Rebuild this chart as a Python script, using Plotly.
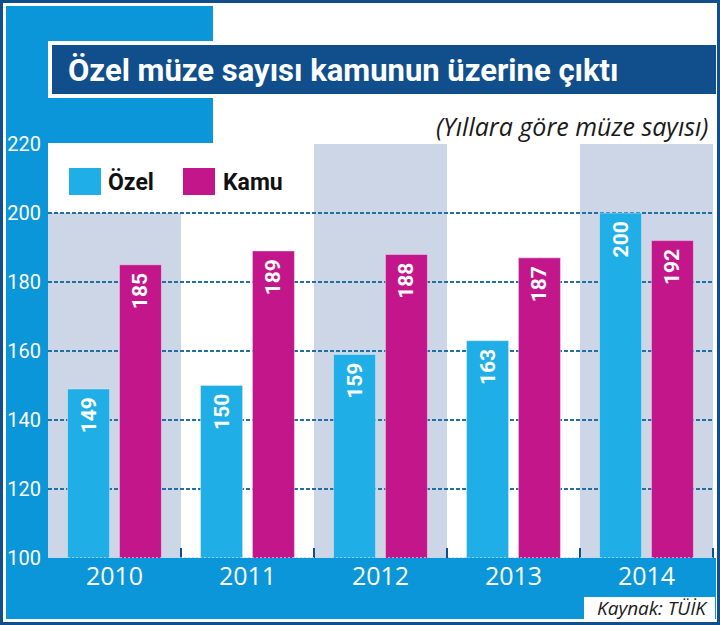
import plotly.graph_objects as go

# values (Yıllara göre müze sayısı)
years = [2010, 2011, 2012, 2013, 2014]
ozel = [149, 150, 159, 163, 200]
kamu = [185, 189, 188, 187, 192]
y_ticks = [100, 120, 140, 160, 180, 200, 220]

W, H = 720, 625
L, R, T, B = 48, 7, 144, 67

BLUE = "#0a96d8"
NAVY = "#114f8c"
CYAN = "#1fafe6"
MAGENTA = "#c2168a"
BAND = "#cdd6e6"
GRID = "#226fa3"
COND = "Roboto"


# pixel -> paper coordinates for the decoration
def px(x):
    return (x - L) / (W - L - R)


def py(y):
    return (H - B - y) / (H - T - B)


def rect(x0, y0, x1, y1, color, layer="below"):
    return dict(type="rect", xref="paper", yref="paper",
                x0=px(x0), x1=px(x1), y0=py(y1), y1=py(y0),
                fillcolor=color, line_width=0, layer=layer)


fig = go.Figure()
for name, vals, col in [("Özel", ozel, CYAN), ("Kamu", kamu, MAGENTA)]:
    fig.add_trace(go.Bar(x=years, y=vals, name=name, marker_color=col,
                         text=vals, texttemplate="%{text}\u00a0",
                         textposition="inside", insidetextanchor="end",
                         textangle=-90,
                         textfont=dict(family=COND, size=21, color="white", weight="bold")))

shapes = [
    # blue frame pieces
    rect(6, 6, 213, 143, BLUE),
    rect(6, 6, 48, 619, BLUE),
    rect(6, 558, 716, 619, BLUE),
    # outer navy border
    dict(type="rect", xref="paper", yref="paper", x0=px(1.5), x1=px(718.5),
         y0=py(623.5), y1=py(1.5), line=dict(color=NAVY, width=3), layer="below"),
    # title box
    rect(48, 41, 716, 98, "white", layer="above"),
    rect(52, 45, 716, 94, NAVY, layer="above"),
    # source box
    rect(584, 597, 715, 620, "white", layer="above"),
    # legend swatches
    rect(69, 168, 101, 195, CYAN, layer="above"),
    rect(183, 168, 215, 195, MAGENTA, layer="above"),
    # dotted baseline
    dict(type="line", xref="paper", yref="y", x0=0, x1=1, y0=100, y1=100,
         line=dict(color="#a8dcf5", width=1.5, dash="2px,2px"), layer="above"),
]
# alternating column bands (2010 band stops under the legend)
for i, yr in enumerate(years):
    if i % 2 == 0:
        top = 200 if i == 0 else 220
        shapes.append(dict(type="rect", xref="x", yref="y", x0=yr - 0.5, x1=yr + 0.5,
                           y0=100, y1=top, fillcolor=BAND, line_width=0, layer="below"))

annotations = [
    dict(text="Özel müze sayısı kamunun üzerine çıktı", xref="paper", yref="paper",
         x=px(66), y=py(70), xanchor="left", yanchor="middle", showarrow=False,
         font=dict(family=COND, size=31, color="white", weight="bold")),
    dict(text="<i>(Yıllara göre müze sayısı)</i>", xref="paper", yref="paper",
         x=px(710), y=py(126), xanchor="right", yanchor="middle", showarrow=False,
         font=dict(family="Open Sans", size=25, color="#1a1a1a")),
    dict(text="<i>Kaynak: TÜİK</i>", xref="paper", yref="paper",
         x=px(710), y=py(608), xanchor="right", yanchor="middle", showarrow=False,
         font=dict(family="Open Sans", size=19, color="#1a1a1a")),
    dict(text="Özel", xref="paper", yref="paper", x=px(106), y=py(182),
         xanchor="left", yanchor="middle", showarrow=False,
         font=dict(family=COND, size=23, color="#111111", weight="bold")),
    dict(text="Kamu", xref="paper", yref="paper", x=px(221), y=py(182),
         xanchor="left", yanchor="middle", showarrow=False,
         font=dict(family=COND, size=23, color="#111111", weight="bold")),
]

fig.update_layout(
    width=W, height=H,
    margin=dict(l=L, r=R, t=T, b=B),
    paper_bgcolor="white",
    plot_bgcolor="rgba(0,0,0,0)",
    barmode="group", bargap=0.22, bargroupgap=0.19,
    showlegend=False,
    shapes=shapes,
    annotations=annotations,
    xaxis=dict(range=[years[0] - 0.5, years[-1] + 0.5], tickvals=years,
               ticks="", showgrid=False, zeroline=False, showline=False,
               tickfont=dict(family="Open Sans", size=25, color="white"),
               ticklabelstandoff=1,
               minor=dict(tickmode="array", tickvals=[y + 0.5 for y in years],
                          ticks="inside", ticklen=10, tickwidth=1.5,
                          tickcolor=NAVY, showgrid=False)),
    yaxis=dict(range=[100, 220], tickvals=y_ticks, ticks="", zeroline=False,
               showline=False, showgrid=True, gridcolor=GRID, gridwidth=1.5,
               griddash="4px,2px",
               tickfont=dict(family=COND, size=20, color="white"),
               ticklabelstandoff=6),
)

fig.write_html("out.html", config={"displayModeBar": False},
               post_script="document.body.style.margin='0';")
